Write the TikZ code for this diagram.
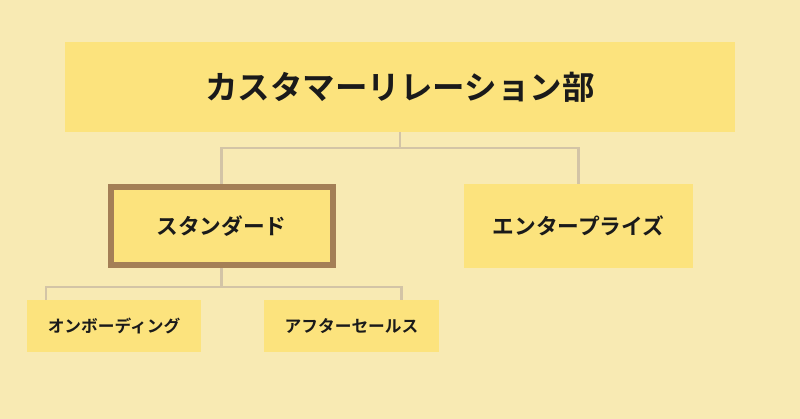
\documentclass[tikz,border=0pt]{standalone}
\usepackage{fontspec}
\newfontfamily\jpfont{Noto Sans CJK JP}[BoldFont={Noto Sans CJK JP Bold}]
\usetikzlibrary{calc}

\definecolor{bgcream}{HTML}{F8EAB3}
\definecolor{boxyellow}{HTML}{FCE37D}
\definecolor{linkgray}{HTML}{D3C4A6}
\definecolor{framebrown}{HTML}{A47F56}
\definecolor{inkblack}{HTML}{1A1A1A}

\tikzset{
  unit/.style={rectangle, fill=boxyellow, inner sep=0pt, text=inkblack, font=\jpfont\bfseries},
  link/.style={draw=linkgray, line width=2.6pt}
}

\begin{document}
\begin{tikzpicture}[x=1pt, y=-1pt]
  % Background
  \fill[bgcream] (0,0) rectangle (800,419);
  \useasboundingbox (0,0) rectangle (800,419);

  % Department
  \node[unit, minimum width=670pt, minimum height=90pt, font=\jpfont\bfseries\fontsize{32.5}{32.5}\selectfont]
    (dept) at (400,87) {カスタマーリレーション部};

  % Second level
  \node[unit, draw=framebrown, line width=6pt, minimum width=222pt, minimum height=78pt,
    font=\jpfont\bfseries\fontsize{21.7}{21.7}\selectfont] (std) at (221.5,226) {スタンダード};
  \node[unit, minimum width=229pt, minimum height=84pt,
    font=\jpfont\bfseries\fontsize{21.7}{21.7}\selectfont] (ent) at (578.5,226) {エンタープライズ};

  % Third level
  \node[unit, minimum width=174pt, minimum height=51pt,
    font=\jpfont\bfseries\fontsize{16.7}{16.7}\selectfont] (onb) at (114,326) {オンボーディング};
  \node[unit, minimum width=175pt, minimum height=51pt,
    font=\jpfont\bfseries\fontsize{16.7}{16.7}\selectfont] (aft) at (351.5,326) {アフターセールス};

  % Connectors from the department
  \draw[link] (dept.south) -- ++(0,16) coordinate (dj);
  \draw[link] (dj) -| (std.north);
  \draw[link] (dj) -| (ent.north);

  % Connectors from standard
  \coordinate (onbtop) at ($(onb.north west)+(19,0)$);
  \coordinate (afttop) at ($(aft.north east)+(-38,0)$);
  \draw[link] (std.south) -- ++(0,19) coordinate (sj);
  \draw[link] (sj) -| (onbtop);
  \draw[link] (sj) -| (afttop);
\end{tikzpicture}
\end{document}
